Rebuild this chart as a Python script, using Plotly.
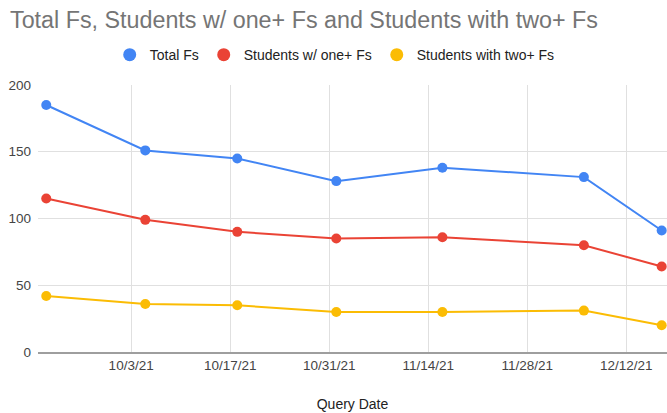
import plotly.graph_objects as go

dates = ["2021-09-21", "2021-10-05", "2021-10-18", "2021-11-01", "2021-11-16", "2021-12-06", "2021-12-17"]
total_fs = [185, 151, 145, 128, 138, 131, 91]
one_plus = [115, 99, 90, 85, 86, 80, 64]
two_plus = [42, 36, 35, 30, 30, 31, 20]
tick_vals = ["2021-10-03", "2021-10-17", "2021-10-31", "2021-11-14", "2021-11-28", "2021-12-12"]
tick_text = ["10/3/21", "10/17/21", "10/31/21", "11/14/21", "11/28/21", "12/12/21"]

series = [
    ("Total Fs", total_fs, "#4285F4"),
    ("Students w/ one+ Fs", one_plus, "#EA4335"),
    ("Students with two+ Fs", two_plus, "#FBBC04"),
]

fig = go.Figure()
for name, vals, col in series:
    fig.add_trace(go.Scatter(x=dates, y=vals, mode="lines+markers", name=name,
                             line=dict(color=col, width=2), marker=dict(size=10, color=col),
                             showlegend=False))
for name, vals, col in series:
    fig.add_trace(go.Scatter(x=[None], y=[None], mode="markers", name=name,
                             marker=dict(size=13, color=col)))

fig.update_layout(
    width=667, height=413,
    margin=dict(l=38, r=0, t=85, b=61),
    paper_bgcolor="white", plot_bgcolor="white",
    font=dict(family="Arial, Liberation Sans", color="#222222"),
    title=dict(text="Total Fs, Students w/ one+ Fs and Students with two+ Fs",
               x=0.015, xanchor="left", y=0.952, yanchor="middle",
               font=dict(size=23.3, color="#757575")),
    legend=dict(orientation="h", x=0.114, xanchor="left", y=1.112, yanchor="middle",
                font=dict(size=14, color="#222222"), itemwidth=30),
    xaxis=dict(type="date", range=["2021-09-19 20:00", "2021-12-17 18:00"],
               tickmode="array", tickvals=tick_vals, ticktext=tick_text,
               showgrid=True, gridcolor="#E0E0E0", gridwidth=1,
               showline=True, linecolor="#9E9E9E", linewidth=2,
               tickfont=dict(size=13.5, color="#444444"), ticks="",
               title=dict(text="Query Date", font=dict(size=14, color="#222222"), standoff=27)),
    yaxis=dict(range=[0, 200], tickvals=[0, 50, 100, 150, 200],
               showgrid=True, gridcolor="#E0E0E0", gridwidth=1, zeroline=False,
               tickfont=dict(size=13.5, color="#444444"), ticks="", ticklabelstandoff=6),
)

fig.write_html("out.html", config={"displayModeBar": False},
               post_script="document.body.style.margin='0';")
